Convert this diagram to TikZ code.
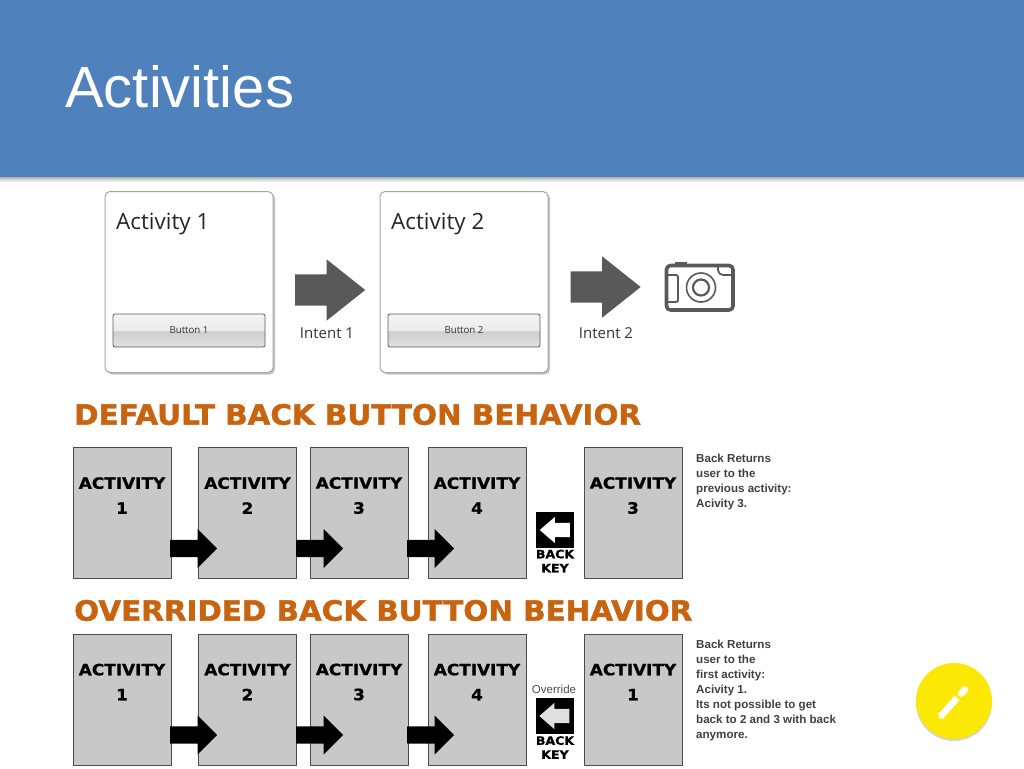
\documentclass[tikz,border=0pt]{standalone}
\usepackage{fontspec}
\usepackage{tikz}
\usetikzlibrary{shapes.arrows,shadows}
\setmainfont{Liberation Sans}
\newfontfamily\uifont{Open Sans}
\newfontfamily\headfont[FakeStretch=1.05,FakeBold=1.6]{DejaVu Sans Bold}
\newfontfamily\actfont[FakeStretch=1.09,FakeBold=1]{DejaVu Sans Bold}

\definecolor{bandblue}{HTML}{4F81BD}
\definecolor{arrowgray}{HTML}{595959}
\definecolor{boxgray}{HTML}{C8C8C8}
\definecolor{headorange}{HTML}{C8640F}
\definecolor{fabyellow}{HTML}{FBE805}
\pgfdeclareverticalshading{btnshade}{100bp}{color(0bp)=(black!12); color(25bp)=(black!12); color(49bp)=(black!19); color(50bp)=(black!8); color(75bp)=(black!4); color(100bp)=(black!4)}

\begin{document}
\begin{tikzpicture}[x=1pt, y=-1pt, line join=round,
    cardbox/.style={draw=black!35, fill=white, line width=1pt, rounded corners=5pt, minimum width=168pt, minimum height=181pt, inner sep=0pt, drop shadow={shadow xshift=2pt, shadow yshift=-2pt, fill=black!40, opacity=.6}},
    btnbox/.style={draw=black!65, line width=.8pt, rounded corners=2pt, shading=btnshade, minimum width=152pt, minimum height=33pt, inner sep=0pt, font=\uifont\fontsize{9.7}{11}\selectfont, text=black!80},
    cardtext/.style={inner sep=0pt, font=\uifont\fontsize{22.4}{26}\selectfont, text=black!85},
    intenttext/.style={inner sep=0pt, font=\uifont\fontsize{15}{18}\selectfont, text=black!80},
    bigarrow/.style={single arrow, draw=none, fill=arrowgray, anchor=tip, inner xsep=0pt, inner ysep=15.5pt, minimum height=70pt, single arrow head extend=15pt, single arrow tip angle=77},
    actbox/.style={draw=black!70, line width=.8pt, fill=boxgray, minimum width=98pt, minimum height=131pt, inner sep=0pt},
    acttext/.style={inner sep=0pt, align=center, font=\actfont\fontsize{15.5}{25}\selectfont},
    steparrow/.style={single arrow, draw=none, fill=black, anchor=tip, inner xsep=0pt, inner ysep=8.5pt, minimum height=47pt, single arrow head extend=11pt},
    keybox/.style={fill=black, minimum width=38pt, minimum height=36pt, inner sep=0pt},
    keyarrow/.style={single arrow, draw=none, anchor=tip, inner xsep=0pt, inner ysep=7pt, minimum height=30pt, single arrow head extend=6pt, single arrow tip angle=82, shape border rotate=180},
    keytext/.style={inner sep=0pt, align=center, font=\actfont\fontsize{11.5}{14}\selectfont},
    notetext/.style={inner sep=0pt, anchor=north west, align=left, text=black!75, font=\bfseries\fontsize{11.6}{14.9}\selectfont},
    headtext/.style={inner sep=0pt, anchor=west, text=headorange, font=\headfont\fontsize{28}{32}\selectfont}]

  %% header band
  \shade[top color=black!30, bottom color=white] (0,177) rectangle (1024,182);
  \fill[bandblue] (0,0) rectangle (1024,177);
  \node[inner sep=0pt, anchor=west, text=white, font=\fontsize{58}{68}\selectfont] (title) at (65,87) {Activities};

  %% top row: two cards and the camera
  \node[cardbox] (card1) at (189,282) {};
  \node[cardbox] (card2) at (464,282) {};
  \node[cardtext, anchor=west] (card1text) at (116,224) {Activity 1};
  \node[cardtext, anchor=west] (card2text) at (391,224) {Activity 2};
  \node[btnbox] (btn1) at (189,330.5) {Button 1};
  \node[btnbox] (btn2) at (464,330.5) {Button 2};
  \node[bigarrow] (intent1) at (365.5,290) {};
  \node[bigarrow] (intent2) at (641,287) {};
  \node[intenttext] (intent1text) at (327,333) {Intent 1};
  \node[intenttext] (intent2text) at (606,333) {Intent 2};

  %% camera
  \draw[arrowgray, line width=3.6pt, rounded corners=4pt] (666.5,265.5) rectangle (733,310);
  \fill[arrowgray] (675,262) rectangle (687,266);
  \draw[arrowgray, line width=1.8pt, rounded corners=2pt] (667,275) -- (678,275) -- (678,302) -- (667,302);
  \draw[arrowgray, line width=1.8pt, rounded corners=2pt] (718,266) -- (718,272) -- (721,275) -- (732,275);
  \draw[arrowgray, line width=1.6pt] (701,287.5) circle (14.5);
  \draw[arrowgray, line width=2.2pt] (701,287.5) circle (8);

  %% default back button
  \node[headtext] (head1) at (74,414.5) {DEFAULT BACK BUTTON BEHAVIOR};
  \node[actbox] (act11) at (122,512.5) {};
  \node[actbox] (act12) at (247.5,512.5) {};
  \node[actbox] (act13) at (359,512.5) {};
  \node[actbox] (act14) at (477,512.5) {};
  \node[actbox] (act15) at (633,512.5) {};
  \node[acttext] (act11text) at (122,495.5) {ACTIVITY\\1};
  \node[acttext] (act12text) at (247.5,495.5) {ACTIVITY\\2};
  \node[acttext] (act13text) at (359,495.5) {ACTIVITY\\3};
  \node[acttext] (act14text) at (477,495.5) {ACTIVITY\\4};
  \node[acttext] (act15text) at (633,495.5) {ACTIVITY\\3};
  \node[steparrow] (step11) at (217.5,548.5) {};
  \node[steparrow] (step12) at (343.5,548.5) {};
  \node[steparrow] (step13) at (454.5,548.5) {};
  \node[keybox] (key1) at (555,530) {};
  \node[keyarrow, fill=white] (key1arrow) at (539.5,530) {};
  \node[keytext] (key1text) at (555,561) {BACK\\KEY};
  \node[notetext] (note1) at (696,454) {Back Returns\\user to the\\previous activity:\\Acivity 3.};

  %% overrided back button
  \node[headtext] (head2) at (74,610.5) {OVERRIDED BACK BUTTON BEHAVIOR};
  \node[actbox] (act21) at (122,699.5) {};
  \node[actbox] (act22) at (247.5,699.5) {};
  \node[actbox] (act23) at (359,699.5) {};
  \node[actbox] (act24) at (477,699.5) {};
  \node[actbox] (act25) at (633,699.5) {};
  \node[acttext] (act21text) at (122,682) {ACTIVITY\\1};
  \node[acttext] (act22text) at (247.5,682) {ACTIVITY\\2};
  \node[acttext] (act23text) at (359,682) {ACTIVITY\\3};
  \node[acttext] (act24text) at (477,682) {ACTIVITY\\4};
  \node[acttext] (act25text) at (633,682) {ACTIVITY\\1};
  \node[steparrow] (step21) at (217.5,735) {};
  \node[steparrow] (step22) at (343.5,735) {};
  \node[steparrow] (step23) at (454.5,735) {};
  \node[inner sep=0pt, text=black!70, font=\fontsize{11.5}{13}\selectfont] (overtext) at (554,689) {Override};
  \node[keybox] (key2) at (554.5,716) {};
  \node[keyarrow, fill=black!12] (key2arrow) at (539,716) {};
  \node[keytext] (key2text) at (555,747.5) {BACK\\KEY};
  \node[notetext] (note2) at (696,640) {Back Returns\\user to the\\first activity:\\Acivity 1.\\Its not possible to get\\back to 2 and 3 with back\\anymore.};

  %% yellow button
  \node[circle, fill=fabyellow, minimum size=76pt, inner sep=0pt, drop shadow={shadow xshift=0pt, shadow yshift=-2pt, fill=black!50, opacity=.35}] (fab) at (954,701) {};
  \draw[white, line width=6.5pt] (941,716) -- (957,698);
  \draw[white, line width=6.5pt, line cap=round] (961,693.5) -- (965,689.5);
  \fill[white] (938,713) -- (944,719) -- (939,718) -- cycle;

  \pgfresetboundingbox
  \path[use as bounding box] (0,0) rectangle (1024,768);
\end{tikzpicture}
\end{document}
